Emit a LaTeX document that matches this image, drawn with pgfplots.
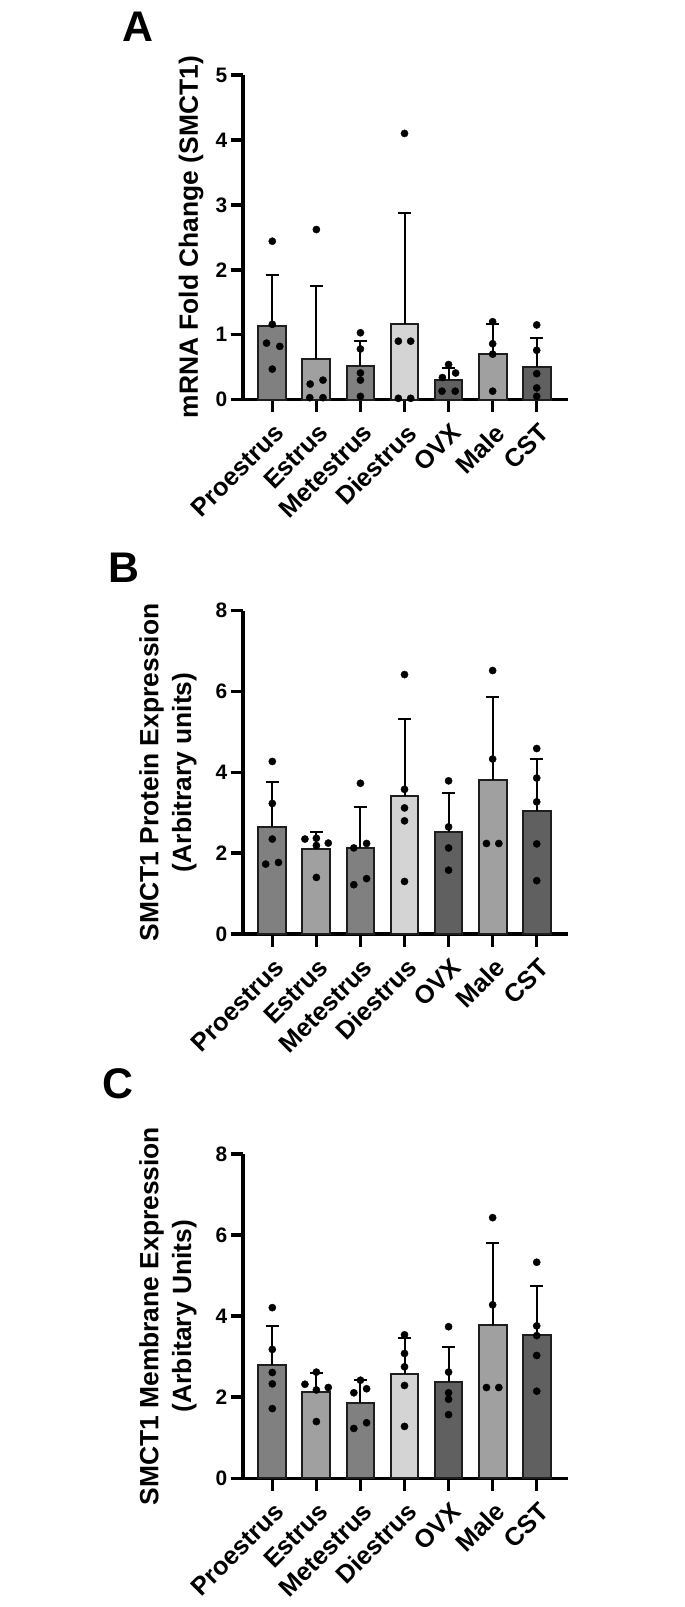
\documentclass[border=0pt]{standalone}
\usepackage{fontspec}
\setmainfont{Liberation Sans}
\usepackage{pgfplots}
\pgfplotsset{compat=1.18}
\definecolor{gM}{HTML}{808080}
\definecolor{gL}{HTML}{A0A0A0}
\definecolor{gXL}{HTML}{D4D4D4}
\definecolor{gD}{HTML}{606060}
\definecolor{edge}{HTML}{1E1E1E}
\pgfplotsset{
  panel/.style={
    scale only axis, width=325bp,
    axis x line*=bottom, axis y line*=left,
    xmin=-0.665, xmax=6.71, ymin=0,
    xtick={0,...,6},
    xticklabels={Proestrus,Estrus,Metestrus,Diestrus,OVX,Male,CST},
    tick align=outside, major tick length=12.5bp,
    every tick/.style={black, line width=3.5bp},
    axis line style={line width=3.5bp, black},
    /pgf/number format/assume math mode=true,
    x tick label style={font=\fontsize{25.5}{30}\selectfont\bfseries, xshift=9bp, yshift=-15bp, rotate=45, anchor=east, inner sep=2bp},
    y tick label style={font=\fontsize{21}{25}\selectfont\bfseries, inner sep=3bp},
    ylabel style={font=\fontsize{26.5}{33}\selectfont\bfseries, align=center, anchor=center},
    clip=false,
  },
  bar/.style={ybar, bar width=0.63, bar shift=0pt, fill=#1, draw=edge, line width=2bp,
    error bars/.cd, y dir=plus, y explicit,
    error bar style={line width=2bp, black},
    error mark options={line width=2bp, black, mark size=6.5bp, rotate=90}},
  dots/.style={only marks, mark=*, mark size=3.6bp, black, mark options={draw=black, fill=black}},
}
\begin{document}
\begin{tikzpicture}
\useasboundingbox (0bp,0bp) rectangle (685bp,-1607bp);
\node[font=\fontsize{43}{43}\selectfont\bfseries, inner sep=0pt] at (138bp,-27bp) {A};
\node[font=\fontsize{43}{43}\selectfont\bfseries, inner sep=0pt] at (124bp,-568bp) {B};
\node[font=\fontsize{43}{43}\selectfont\bfseries, inner sep=0pt] at (118bp,-1084bp) {C};

% ---------------- Panel A
\begin{axis}[panel, at={(243bp,-399.6bp)}, anchor=south west, height=324.6bp,
  ymax=5, ytick={0,1,2,3,4,5},
  ylabel={mRNA Fold Change (SMCT1)},
  ylabel style={at={(axis description cs:-0.16,0.5)}}]
\addplot[bar=gM] coordinates {(0,1.14) +- (0,0.775)};
\addplot[bar=gL] coordinates {(1,0.62) +- (0,1.135)};
\addplot[bar=gM] coordinates {(2,0.51) +- (0,0.40)};
\addplot[bar=gXL] coordinates {(3,1.17) +- (0,1.705)};
\addplot[bar=gD] coordinates {(4,0.30) +- (0,0.19)};
\addplot[bar=gL] coordinates {(5,0.71) +- (0,0.46)};
\addplot[bar=gD] coordinates {(6,0.50) +- (0,0.455)};
\addplot[dots] coordinates {
 (0,2.44) (0,1.16) (-0.13,0.87) (0.17,0.82) (0,0.47)
 (1,2.62) (0.86,0.24) (1.15,0.30) (0.85,0.03) (1.15,0.03)
 (2,1.03) (2,0.78) (2,0.41) (2,0.30) (2,0.05)
 (3,4.10) (2.86,0.90) (3.14,0.90) (2.86,0.02) (3.14,0.02)
 (4,0.54) (3.86,0.34) (4.16,0.41) (3.85,0.13) (4.15,0.13)
 (5,1.20) (5,0.86) (5,0.70) (5,0.13)
 (6,1.15) (6,0.76) (6,0.40) (6,0.18) (6,0.05)
};
\end{axis}

% ---------------- Panel B
\begin{axis}[panel, at={(243bp,-934bp)}, anchor=south west, height=323.3bp,
  ymax=8, ytick={0,2,4,6,8},
  ylabel={SMCT1 Protein Expression\\(Arbitrary units)},
  ylabel style={at={(axis description cs:-0.231,0.5)}}]
\addplot[bar=gM] coordinates {(0,2.65) +- (0,1.105)};
\addplot[bar=gL] coordinates {(1,2.10) +- (0,0.42)};
\addplot[bar=gM] coordinates {(2,2.13) +- (0,1.01)};
\addplot[bar=gXL] coordinates {(3,3.41) +- (0,1.90)};
\addplot[bar=gD] coordinates {(4,2.52) +- (0,0.96)};
\addplot[bar=gL] coordinates {(5,3.81) +- (0,2.06)};
\addplot[bar=gD] coordinates {(6,3.04) +- (0,1.30)};
\addplot[dots] coordinates {
 (0,4.27) (0,3.23) (0,2.35) (-0.15,1.73) (0.14,1.77)
 (0.74,2.35) (1,2.37) (1,2.19) (1.27,2.25) (1,1.40)
 (2,3.73) (2.14,2.24) (1.85,2.13) (2.14,1.37) (1.85,1.22)
 (3,6.42) (3,3.58) (3,3.12) (3,2.80) (3,1.30)
 (4,3.79) (4,2.65) (4,2.13) (4,1.58)
 (5,6.52) (5,4.33) (4.86,2.24) (5.14,2.24)
 (6,4.59) (6,3.86) (6,3.27) (6,2.23) (6,1.32)
};
\end{axis}

% ---------------- Panel C
\begin{axis}[panel, at={(243bp,-1478.3bp)}, anchor=south west, height=324.3bp,
  ymax=8, ytick={0,2,4,6,8},
  ylabel={SMCT1 Membrane Expression\\(Arbitary Units)},
  ylabel style={at={(axis description cs:-0.231,0.5)}}]
\addplot[bar=gM] coordinates {(0,2.80) +- (0,0.95)};
\addplot[bar=gL] coordinates {(1,2.12) +- (0,0.49)};
\addplot[bar=gM] coordinates {(2,1.86) +- (0,0.56)};
\addplot[bar=gXL] coordinates {(3,2.57) +- (0,0.88)};
\addplot[bar=gD] coordinates {(4,2.38) +- (0,0.86)};
\addplot[bar=gL] coordinates {(5,3.77) +- (0,2.03)};
\addplot[bar=gD] coordinates {(6,3.54) +- (0,1.20)};
\addplot[dots] coordinates {
 (0,4.21) (0,3.18) (0,2.61) (0,2.33) (0,1.72)
 (1,2.62) (0.74,2.32) (1,2.18) (1.27,2.24) (1,1.40)
 (2,2.42) (2.14,2.21) (1.85,2.11) (2.14,1.37) (1.85,1.23)
 (3,3.54) (3,3.08) (3,2.75) (3,2.29) (3,1.28)
 (4,3.74) (4,2.62) (4,2.11) (4,1.95) (4,1.57)
 (5,6.43) (5,4.28) (4.86,2.24) (5.14,2.24)
 (6,5.33) (6,3.76) (6,3.52) (6,3.03) (6,2.15)
};
\end{axis}
\end{tikzpicture}
\end{document}
